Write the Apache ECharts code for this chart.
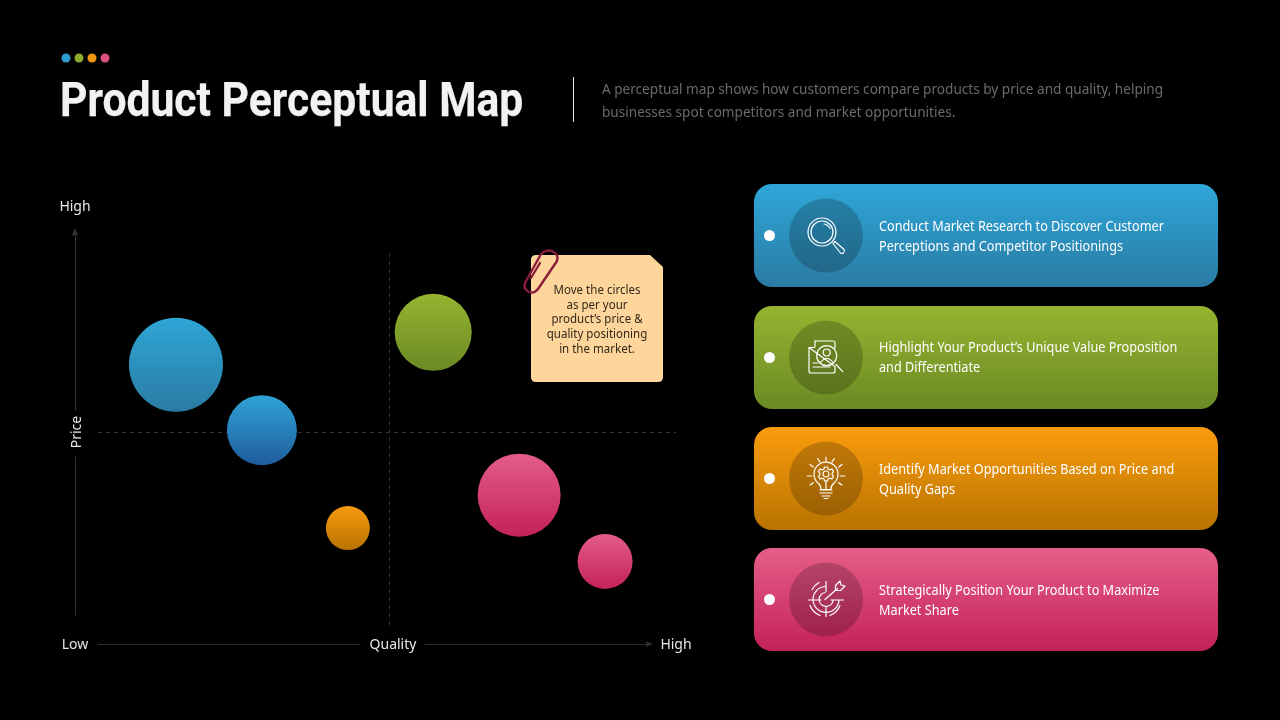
<!DOCTYPE html>
<html><head><meta charset="utf-8">
<style>html,body{margin:0;padding:0;background:#000}#c{width:1280px;height:720px}</style>
<script src="https://cdn.jsdelivr.net/npm/echarts@6/dist/echarts.min.js"></script>
</head><body><div id="c"></div>
<script>
const titleText = 'Product Perceptual Map';
const subtitleLines = 'A perceptual map shows how customers compare products by price and quality, helping\nbusinesses spot competitors and market opportunities.';
const noteText = 'Move the circles\nas per your\nproduct\u2019s price &\nquality positioning\nin the market.';
const xTickValues = [0, 100];
const xTickLabels = ['Low', 'High'];
const yTickValues = [99.5];
const yTickLabels = ['High'];
const xAxisName = 'Quality';
const yAxisName = 'Price';
const quality = [16.8, 31.1, 59.6, 45.4, 73.9, 88.2];
const price = [63.6, 48.7, 71.0, 26.4, 33.9, 18.8];
const bubbleSize = [94, 70, 77, 44, 83, 55];
const bubbleTop = ['#2ea6d6', '#2fa3d6', '#96b42f', '#f79a0e', '#e35d87', '#e35d87'];
const bubbleBottom = ['#2a7ba3', '#1f5c9c', '#6a8a24', '#b87300', '#c4215a', '#c4215a'];
const cardTexts = [
  'Conduct Market Research to Discover Customer\nPerceptions and Competitor Positionings',
  'Highlight Your Product\u2019s Unique Value Proposition\nand Differentiate',
  'Identify Market Opportunities Based on Price and\nQuality Gaps',
  'Strategically Position Your Product to Maximize\nMarket Share'
];
const cardTop = ['#2ea6d8', '#96b42f', '#fb9c0d', '#e65f88'];
const cardBottom = ['#2a7ba3', '#6a8a24', '#b87300', '#c3215a'];
const dotColors = ['#2f9fd0', '#8bab2e', '#f0950f', '#e0507f'];

const FONT = '"Noto Sans"';
const grad = (a, b) => ({type:'linear', x:0, y:0, x2:0, y2:1, colorStops:[{offset:0,color:a},{offset:1,color:b}]});
const ln = (x1,y1,x2,y2,color,dash,end) => [
  {coord:[x1,y1], symbol:'none', lineStyle:{color, width:1, type:dash?[4,4]:'solid', opacity:1}},
  {coord:[x2,y2], symbol:end?'triangle':'none', symbolSize:end?[6,7]:0}
];

let pathCount = 0;
function pathEl(d, props) {
  const name = 'pp' + (pathCount++);
  echarts.graphic.registerShape(name, echarts.graphic.extendPath(d));
  return Object.assign({type:name}, props);
}

const S = {stroke:'#fff', fill:'none', lineWidth:1.2, lineCap:'round', lineJoin:'round'};
const iconPaths = [
  ['M10,-3.5A14,14 0 1,1 -18,-3.5A14,14 0 1,1 10,-3.5Z',
   'M7,-3.5A11,11 0 1,1 -15,-3.5A11,11 0 1,1 7,-3.5Z',
   'M-2,-11.5A8.5,8.5 0 0,1 4,-7',
   'M7,8L9,6L18,14Q19,16 17.5,17.5Q16,18.5 14.5,17.5Z'],
  ['M-11,-16.5L7,-16.5Q9,-16.5 9,-14.5L9,-9M9,9L9,13.5Q9,15.5 7,15.5L-15,15.5Q-17,15.5 -17,13.5L-17,-10Z',
   'M-11,-16.5L-11,-11Q-11,-10 -12,-10L-17,-10',
   'M10.7,-1.8A10,10 0 1,1 -9.3,-1.8A10,10 0 1,1 10.7,-1.8Z',
   'M4.2,-5A3.5,3.5 0 1,1 -2.8,-5A3.5,3.5 0 1,1 4.2,-5Z',
   'M-5.5,5Q1,-3 7,5',
   'M10,7L16.7,14.2',
   'M-13,9.5L4,9.5M-13,5.5L-8,5.5'],
  ['M-5,11Q-5,7 -8,4.5A12,12 0 1,1 8,4.5Q5,7 5,11Z',
   'M3,-4.5A3,3 0 1,1 -3,-4.5A3,3 0 1,1 3,-4.5Z',
   'M-1.5,-11.5L1.5,-11.5L2,-9.5L4,-8.5L5.8,-9.6L7.6,-7L6.2,-5.6L6.2,-3.4L7.6,-2L5.8,0.6L4,-0.5L2,0.5L1.5,2.5L-1.5,2.5L-2,0.5L-4,-0.5L-5.8,0.6L-7.6,-2L-6.2,-3.4L-6.2,-5.6L-7.6,-7L-5.8,-9.6L-4,-8.5L-2,-9.5Z',
   'M0,2.5L0,11',
   'M-6,11.5L6,11.5M-6,14.5L6,14.5M-4,17.5L4,17.5M-2,20L2,20',
   'M0,-21.5L0,-17.5M-8.3,-20L-6,-16.7M8.3,-20L6,-16.7M-16,-14L-12.7,-11.5M16,-14L12.7,-11.5M-18.7,-2.5L-14.3,-2.5M18.7,-2.5L14.3,-2.5M-16,6.5L-12.7,4.2M16,6.5L12.7,4.2'],
  ['M-1,-13A13,13 0 1,0 13,1', 'M-1,-7A7,7 0 1,0 7,1', 'M0,-18L0,-8', 'M-17.5,0.5L-5,0.5', 'M5,0.5L17.5,0.5', 'M0,7L0,17',
   'M-1,0L11.5,-11', 'M9.5,-9L9.5,-14L14,-18.5L15,-14.5L19,-13.5L14.5,-9Z', 'M-7,-17A19,19 0 0,0 -14,-10', 'M-16,6A18,18 0 0,0 -6,16', 'M4,16A18,18 0 0,0 14,6']
];

const cardY = [184, 306, 427, 548];
const cardTextShift = [2, 1, 2, 2];
const graphics = [];
dotColors.forEach((c,i) => graphics.push({type:'circle', shape:{cx:66+13*i, cy:58, r:4.5}, style:{fill:c}}));
graphics.push({type:'text', x:60, y:104, scaleX:0.888, style:{text:titleText, font:'bold 48px Roboto', fill:'#f2f2f2', stroke:'#f2f2f2', lineWidth:0.25, verticalAlign:'middle'}});
graphics.push({type:'rect', shape:{x:573, y:77, width:1, height:45}, style:{fill:'#e8e8e8'}});
graphics.push({type:'text', x:602, y:102, style:{text:subtitleLines, font:'13.6px '+FONT, fill:'#6b6b6b', lineHeight:23, verticalAlign:'middle'}});
// note
graphics.push(pathEl('M536,255L650,255L663,267L663,377Q663,382 658,382L536,382Q531,382 531,377L531,260Q531,255 536,255Z', {style:{fill:'#fed59b'}}));
graphics.push(pathEl('M541,254Q546,249 552,251Q559,254 557,261L538,289Q534,294 529,292Q523,289 525,283Z', {style:{fill:'none', stroke:'#8a1c3c', lineWidth:2.4, lineCap:'round', lineJoin:'round'}}));
graphics.push(pathEl('M540,263L531,278', {style:{fill:'none', stroke:'#8a1c3c', lineWidth:2.2, lineCap:'round'}}));
graphics.push({type:'text', x:597, y:320, scaleX:0.96, style:{text:noteText, font:'12px '+FONT, fill:'#33281a', lineHeight:14.8, align:'center', verticalAlign:'middle'}});
// cards
cardTexts.forEach((t,i) => {
  const y = cardY[i], cy = y+51.5;
  graphics.push({type:'rect', shape:{x:754,y,width:464,height:103,r:18}, style:{fill:grad(cardTop[i],cardBottom[i])}});
  graphics.push({type:'circle', shape:{cx:769.5,cy:cy,r:5.5}, style:{fill:'#fff'}});
  graphics.push({type:'circle', shape:{cx:826,cy:cy,r:37}, style:{fill:'rgba(0,0,0,0.2)'}});
  iconPaths[i].forEach(p => graphics.push(pathEl(p, {x:826, y:cy, style:S})));
  graphics.push({type:'text', x:879, y:cy+cardTextShift[i], scaleX:0.934, style:{text:t, font:'13.6px '+FONT, fill:'#fff', lineHeight:20, verticalAlign:'middle'}});
});

const chart = echarts.init(document.getElementById('c'), null, {renderer:'canvas'});
const axisText = {color:'#e8e8e8', fontSize:14, fontFamily:FONT};
chart.setOption({
  backgroundColor:'#000',
  animation:false,
  grid:{left:75, right:604, top:205, bottom:76},
  xAxis:{type:'value', min:0, max:100, splitLine:{show:false}, axisLine:{show:false}, axisTick:{show:false},
    name:xAxisName, nameLocation:'middle', nameGap:1, nameMoveOverlap:false,
    nameTextStyle:{...axisText, verticalAlign:'middle', padding:[0,0,0,35]},
    axisLabel:{...axisText, customValues:xTickValues, margin:1, verticalAlign:'middle', align:'center',
      formatter:v => xTickLabels[xTickValues.indexOf(v)] || ''}},
  yAxis:{type:'value', min:0, max:100, splitLine:{show:false}, axisLine:{show:false}, axisTick:{show:false},
    name:yAxisName, nameLocation:'middle', nameGap:-2, nameRotate:90, nameMoveOverlap:false,
    nameTextStyle:{...axisText, verticalAlign:'middle', padding:[0,15,0,0]},
    axisLabel:{...axisText, customValues:yTickValues, margin:0, verticalAlign:'middle', align:'center',
      formatter:v => yTickLabels[yTickValues.indexOf(v)] || ''}},
  graphic:{elements:graphics},
  series:[
    {type:'line', data:[], z:1, silent:true, markLine:{z:1, silent:true, animation:false, label:{show:false}, symbol:'none', data:[
      ln(0,53.1,0,93.9,'#333333',false,true),
      ln(0,6.4,0,42.8,'#333333',false),
      ln(3.8,0,47.5,0,'#2c2c2c',false),
      ln(58.2,0,95.6,0,'#2c2c2c',false,true),
      ln(52.3,89,52.3,3.6,'#333333',true),
      ln(3.8,48.3,100,48.3,'#333333',true)
    ]}},
    {type:'scatter', z:10, silent:true,
     data:quality.map((q,i) => ({value:[q,price[i]], symbolSize:bubbleSize[i], itemStyle:{color:grad(bubbleTop[i],bubbleBottom[i]), opacity:1}}))}
  ]
});
</script></body></html>
